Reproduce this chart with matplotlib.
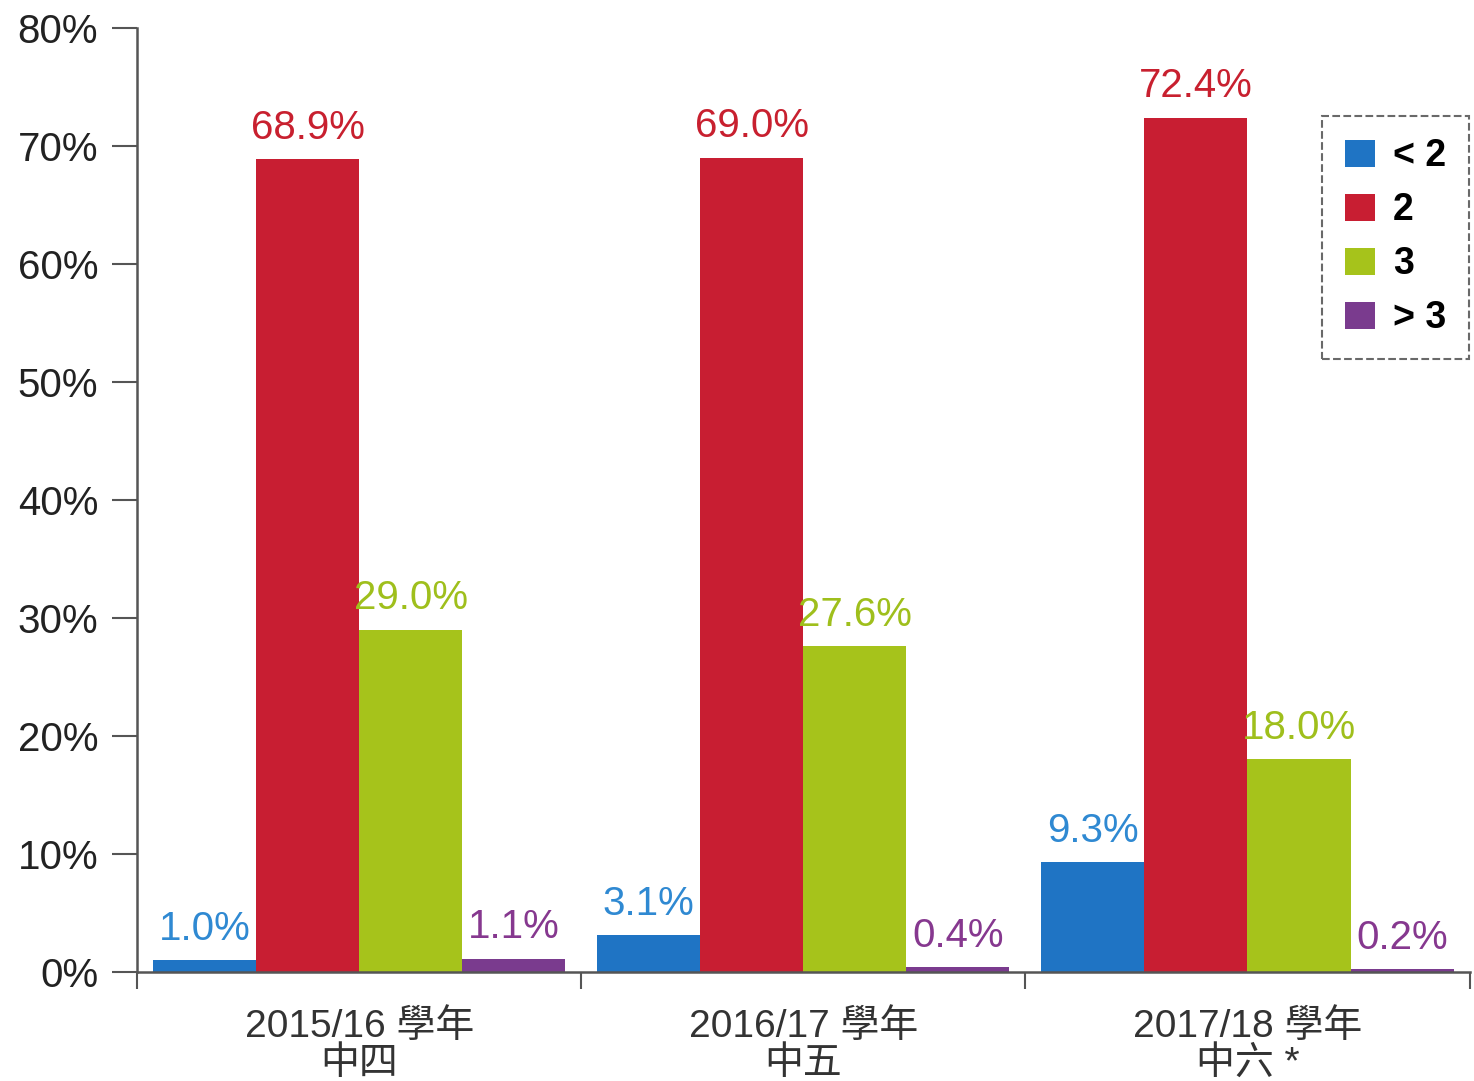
import numpy as np
import matplotlib
matplotlib.use("Agg")
import matplotlib.pyplot as plt

plt.rcParams['font.family'] = ['Liberation Sans', 'Noto Sans CJK TC']

# data
years = ["2015/16 學年\n中四", "2016/17 學年\n中五", "2017/18 學年\n中六 *"]
series_names = ["< 2", "2", "3", "> 3"]
less2 = [1.0, 3.1, 9.3]
two = [68.9, 69.0, 72.4]
three = [29.0, 27.6, 18.0]
more3 = [1.1, 0.4, 0.2]

bar_colors = ["#1f74c4", "#c81e32", "#a6c31b", "#7a3b8e"]
text_colors = ["#2f89d2", "#c8202f", "#9fbf1c", "#86388f"]

fig = plt.figure(figsize=(14.74, 10.81), dpi=100)
ax = fig.add_axes([0.093, 0.101, 0.904, 0.873])

x = np.arange(len(years))
width = 0.232
for i, vals in enumerate([less2, two, three, more3]):
    pos = x + (i - 1.5) * width
    ax.bar(pos, vals, width=width, color=bar_colors[i], label=series_names[i])
    for px, v in zip(pos, vals):
        ax.annotate(f"{v:.1f}%", (px, v), xytext=(0, 9), textcoords="offset points",
                    ha="center", va="bottom", fontsize=29, color=text_colors[i])

ax.set_xlim(-0.5, 2.5)
ax.set_ylim(0, 80)
ax.set_yticks(np.arange(0, 81, 10))
ax.set_yticklabels([f"{t}%" for t in range(0, 81, 10)], fontsize=29, color="#222222")
ax.set_xticks(x)
ax.set_xticklabels(years, fontsize=28, color="#333333", linespacing=1.02)
ax.set_xticks([-0.5, 0.5, 1.5, 2.5], minor=True)
ax.tick_params(axis="x", which="major", length=0, pad=27)
ax.tick_params(axis="x", which="minor", length=12, width=1.5, direction="out", color="#555555")
ax.tick_params(axis="y", length=18, width=1.5, color="#555555", pad=10)

for side in ["top", "right"]:
    ax.spines[side].set_visible(False)
for side in ["left", "bottom"]:
    ax.spines[side].set_linewidth(1.8)
    ax.spines[side].set_color("#555555")

leg = fig.legend(loc="upper left", bbox_to_anchor=(1322 / 1474, 1 - 116 / 1081),
                 borderaxespad=0, frameon=True, fancybox=False, handlelength=0.8,
                 handleheight=0.75, handletextpad=0.5, labelspacing=0.48,
                 borderpad=0.6, prop={"weight": "bold", "size": 27})
leg.get_frame().set_linestyle("--")
leg.get_frame().set_edgecolor("#444444")
leg.get_frame().set_linewidth(1.5)

fig.savefig("out.png", dpi=100)
